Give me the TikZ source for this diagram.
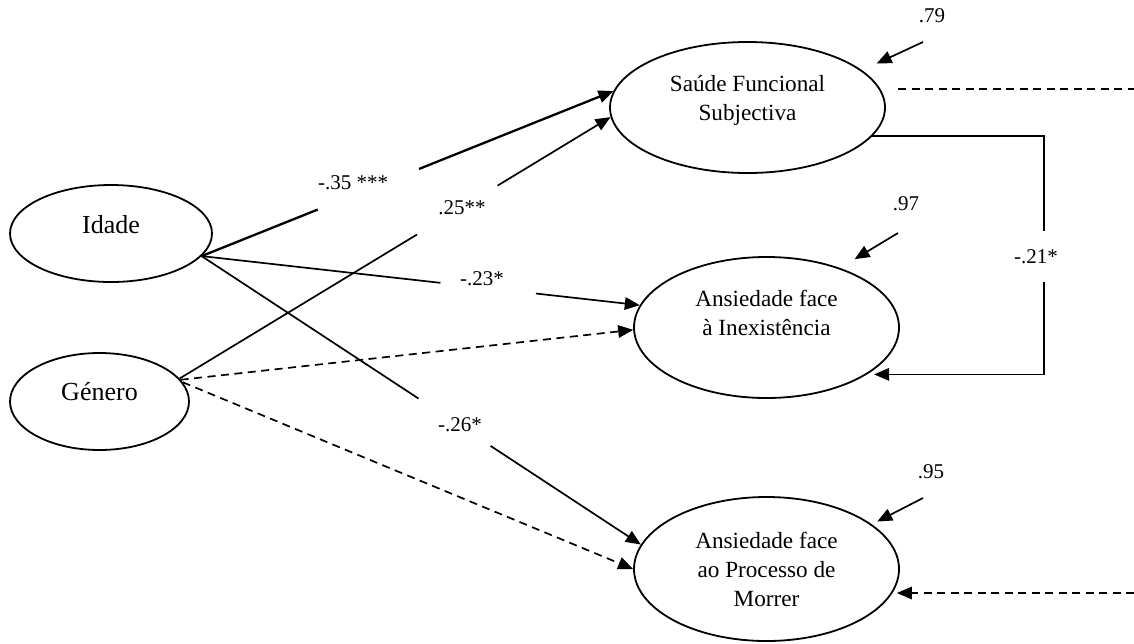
\documentclass[tikz,border=0pt]{standalone}
\usepackage{fontspec}
\setmainfont{Liberation Serif}
\usetikzlibrary{arrows.meta,shapes.geometric}
\newcommand\etxt[2]{\raisebox{#1}[0pt][0pt]{\begin{tabular}[t]{@{}c@{}}#2\end{tabular}}}
\tikzset{
  ell/.style={draw, line width=1.8pt, ellipse, inner sep=0pt},
  ln/.style={line width=1.7pt},
  arr/.style={-{Triangle[length=15pt,width=12.5pt]}},
  dsh/.style={dash pattern=on 8pt off 5.5pt},
  lbl/.style={inner sep=0pt, font=\fontsize{21}{25}\selectfont},
  big/.style={font=\fontsize{26}{30}\selectfont},
  mid/.style={font=\fontsize{23.2}{29}\selectfont}
}
\begin{document}
\begin{tikzpicture}[x=1pt,y=-1pt]
\useasboundingbox (0,0) rectangle (1134,643);
\fill[white] (0,0) rectangle (1134,643);

% latent variables
\node[ell, big, minimum width=202pt, minimum height=97pt] (idade) at (111,233.5) {\etxt{0.5pt}{Idade}};
\node[ell, big, minimum width=179pt, minimum height=97pt] (genero) at (99.5,401.5) {\etxt{1.5pt}{Género}};
\node[ell, mid, minimum width=275pt, minimum height=131pt] (saude) at (747.5,107.5) {\etxt{16.5pt}{Saúde Funcional\\Subjectiva}};
\node[ell, mid, minimum width=265pt, minimum height=141pt] (ine) at (766.5,327.5) {\etxt{21.5pt}{Ansiedade face\\à Inexistência}};
\node[ell, mid, minimum width=265pt, minimum height=144pt] (mor) at (766.5,569) {\etxt{21pt}{Ansiedade face\\ao Processo de\\Morrer}};

% path labels
\node[lbl] (l35) at (353,183) {-.35 ***};
\node[lbl] (l25) at (462,208) {.25**};
\node[lbl] (l23) at (482,279) {-.23*};
\node[lbl] (l26) at (460,425) {-.26*};
\node[lbl] (l21) at (1036,257) {-.21*};
\node[lbl] (l79) at (932,16) {.79};
\node[lbl] (l97) at (906,204) {.97};
\node[lbl] (l95) at (931,472) {.95};

% Idade -> Saude
\path (idade.-14.5) -- (saude.173) coordinate[pos=0.282] (a1) coordinate[pos=0.528] (a2);
\draw[ln, line width=2.3pt] (idade.-14.5) -- (a1);
\draw[ln, line width=2.3pt, arr] (a2) -- (saude.173);

% Genero -> Saude
\path (genero.16) -- (saude.184) coordinate[pos=0.551] (b1) coordinate[pos=0.738] (b2);
\draw[ln] (genero.16) -- (b1);
\draw[ln, arr] (b2) -- (saude.184);

% Idade -> Inexistencia
\path (idade.-14.5) -- (ine.170.4) coordinate[pos=0.545] (c1) coordinate[pos=0.763] (c2);
\draw[ln] (idade.-14.5) -- (c1);
\draw[ln, arr] (c2) -- (ine.170.4);

% Idade -> Morrer
\path (idade.-14.5) -- (mor.169.7) coordinate[pos=0.494] (d1) coordinate[pos=0.658] (d2);
\draw[ln] (idade.-14.5) -- (d1);
\draw[ln, arr] (d2) -- (mor.169.7);

% Genero dashed
\draw[ln, dsh, arr] (genero.15) -- (ine.181);
\draw[ln, dsh, arr] (genero.13) -- (mor.180);

% Saude -> Inexistencia (-.21*)
\draw[ln] (saude.-13) -- ++(172,0) -- ++(0,95);
\draw[ln, arr, shorten >=7pt] (saude.-13) ++(172,146) |- (ine.-25);

% residuals
\coordinate (r1) at (923,42);
\coordinate (r2) at (898,233);
\coordinate (r3) at (923,498);
\draw[ln, arr, shorten >=16pt] (r1) -- (saude.18.3);
\draw[ln, arr, shorten >=17pt] (r2) -- (ine.39.5);
\draw[ln, arr, shorten >=6pt] (r3) -- (mor.23.2);

% dashed free lines on the right
\coordinate (sd1) at (898,89);
\coordinate (sd2) at (1134,89);
\draw[ln, dsh] (sd1) -- (sd2);
\coordinate (md) at (1134,593);
\draw[ln, dsh, arr, shorten >=-3pt] (md) -- (md -| mor.east);
\end{tikzpicture}
\end{document}
